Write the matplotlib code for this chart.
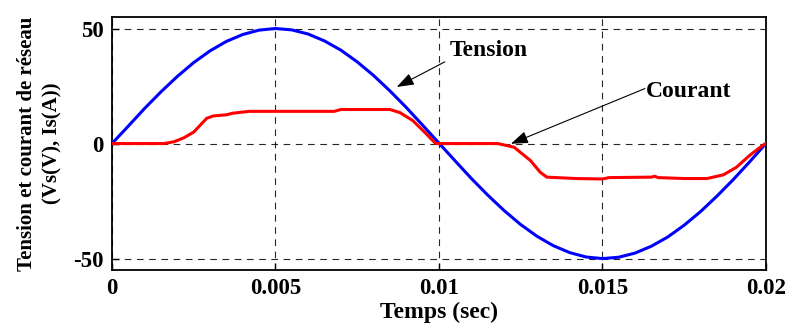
import numpy as np
import matplotlib.pyplot as plt

# Tension (V) - sinusoide
t_v = [0.0, 0.0005, 0.001, 0.0015, 0.002, 0.0025, 0.003, 0.0035, 0.004, 0.0045,
       0.005, 0.0055, 0.006, 0.0065, 0.007, 0.0075, 0.008, 0.0085, 0.009, 0.0095,
       0.01, 0.0105, 0.011, 0.0115, 0.012, 0.0125, 0.013, 0.0135, 0.014, 0.0145,
       0.015, 0.0155, 0.016, 0.0165, 0.017, 0.0175, 0.018, 0.0185, 0.019, 0.0195, 0.02]
v_s = [0.0, 7.6, 15.3, 22.5, 29.2, 35.2, 40.3, 44.4, 47.4, 49.3,
       50.0, 49.4, 47.6, 44.6, 40.6, 35.5, 29.6, 22.9, 15.7, 8.0,
       0.2, -7.6, -15.3, -22.5, -29.2, -35.2, -40.3, -44.4, -47.4, -49.3,
       -50.0, -49.4, -47.6, -44.6, -40.6, -35.5, -29.6, -22.9, -15.7, -8.0, 0.0]

# Courant (A)
t_i = [0.0, 0.0016, 0.0019, 0.0022, 0.0025, 0.0027, 0.0029, 0.0031, 0.0035, 0.0037,
       0.0042, 0.0068, 0.0070, 0.0085, 0.0088, 0.0092, 0.0096, 0.0099, 0.0118, 0.0123,
       0.0128, 0.0131, 0.0133, 0.0142, 0.0150, 0.0152, 0.0165, 0.0166, 0.0167, 0.0175,
       0.0182, 0.0187, 0.0191, 0.0195, 0.0199, 0.02]
i_s = [0.0, 0.0, 0.8, 2.5, 5.0, 8.0, 11.0, 12.0, 12.5, 13.2,
       14.0, 14.0, 14.8, 14.8, 13.5, 10.0, 4.4, 0.0, 0.0, -1.6,
       -7.4, -12.5, -14.6, -15.2, -15.4, -14.8, -14.6, -14.2, -14.8, -15.2,
       -15.2, -13.6, -10.3, -5.2, -0.8, 0.0]

x_ticks = [0, 0.005, 0.01, 0.015, 0.02]
x_labels = ["0", "0.005", "0.01", "0.015", "0.02"]
y_ticks = [-50, 0, 50]

plt.rcParams['font.family'] = ['Liberation Serif', 'DejaVu Serif']
plt.rcParams['font.weight'] = 'bold'
plt.rcParams['axes.unicode_minus'] = False

fig = plt.figure(figsize=(7.92, 3.27), dpi=100)
ax = fig.add_axes([0.1414, 0.174, 0.8256, 0.774])

ax.plot(t_v, v_s, color='#0000ff', lw=2.2, zorder=3)
ax.plot(t_i, i_s, color='#ff0000', lw=2.2, zorder=3)

ax.set_xlim(0, 0.02)
ax.set_ylim(-55, 55)
ax.set_xticks(x_ticks)
ax.set_xticklabels(x_labels)
ax.set_yticks(y_ticks)
ax.tick_params(direction='in', length=5, width=1, labelsize=16.5, pad=6)
for lab in ax.get_xticklabels() + ax.get_yticklabels():
    lab.set_fontweight('bold')
ax.grid(True, color='black', ls=(0, (6, 5)), lw=0.8, alpha=0.85)
for sp in ax.spines.values():
    sp.set_linewidth(1.3)

ax.set_xlabel("Temps (sec)", fontsize=17, fontweight='bold', labelpad=2)
ax.set_ylabel("Tension et courant de réseau\n(Vs(V), Is(A))", fontsize=15,
              fontweight='bold', linespacing=1.35, labelpad=8)

arrow = dict(arrowstyle='-|>,head_length=0.7,head_width=0.25', mutation_scale=15,
             color='black', lw=0.8, shrinkA=0, shrinkB=0)
ax.annotate("", xy=(0.00871, 24.6), xytext=(0.01018, 35.5), arrowprops=arrow)
ax.text(0.01034, 40.5, "Tension", fontsize=17, fontweight='bold', va='center', ha='left')
ax.annotate("", xy=(0.0122, -0.1), xytext=(0.0163, 23.9), arrowprops=arrow)
ax.text(0.01634, 22.5, "Courant", fontsize=17, fontweight='bold', va='center', ha='left')

fig.savefig("out.png", dpi=100)
